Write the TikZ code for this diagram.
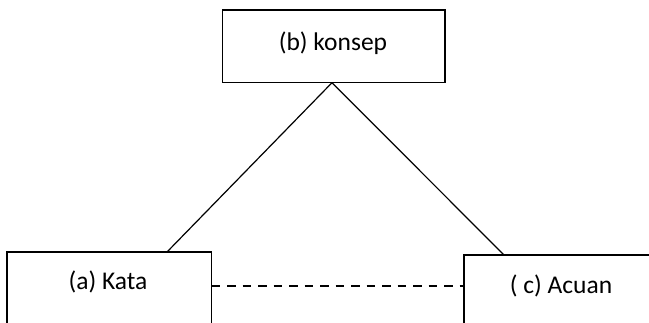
\documentclass[tikz,border=0pt]{standalone}
\usepackage{fontspec}
\setmainfont{Carlito}
\begin{document}
\begin{tikzpicture}[x=1pt,y=-1pt,
  boxstyle/.style={draw=black, line width=1.3pt, inner sep=0pt, outer sep=0pt},
  lbl/.style={font=\fontsize{25.5}{30}\selectfont, inner sep=0pt},
  conn/.style={line width=1.2pt},
  dashconn/.style={line width=1.2pt, dash pattern=on 8.5pt off 7pt}]
\useasboundingbox (0,0) rectangle (649,323);
\clip (0,0) rectangle (649,323);
% boxes
\node[boxstyle, minimum width=222.3pt, minimum height=72.7pt] (b) at (333.85,46.35) {};
\node[boxstyle, minimum width=204.5pt, minimum height=100pt] (a) at (109.25,302) {};
\node[boxstyle, minimum width=200pt, minimum height=100pt] (c) at (564,305) {};
% labels
\node[lbl] (tb) at (333,43) {(b) konsep};
\node[lbl] (ta) at (108,282) {(a) Kata};
\node[lbl] (tc) at (561,286) {( c) Acuan};
% connector points
\coordinate (apex) at (332,82.7);
\coordinate (ain) at (167,252);
\coordinate (cin) at (504,255);
\coordinate (dy) at (0,286);
\draw[conn] (apex) -- (ain);
\draw[conn] (apex) -- (cin);
\draw[dashconn] (a.east |- dy) -- (c.west |- dy);
\end{tikzpicture}
\end{document}
